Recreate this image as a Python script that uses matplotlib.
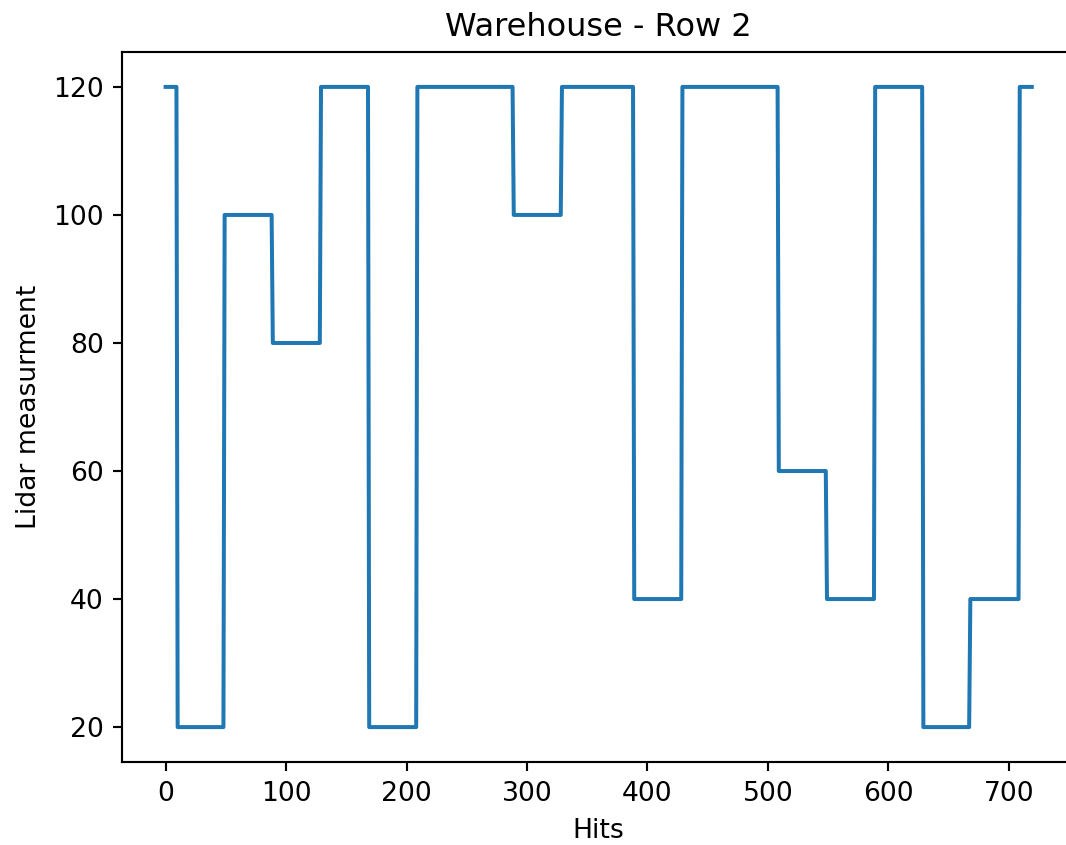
import numpy as np
import matplotlib
matplotlib.use("Agg")
import matplotlib.pyplot as plt

# plateau start indices (hits) and the lidar level of each plateau
seg_start = [0, 10, 49, 89, 129, 169, 209, 289, 329, 389, 429, 509, 549, 589, 629, 668, 709]
seg_level = [120, 20, 100, 80, 120, 20, 120, 100, 120, 40, 120, 60, 40, 120, 20, 40, 120]
n_hits = 720

# expand plateaus into one reading per hit
seg_len = np.diff(seg_start + [n_hits])
hits = np.arange(n_hits)
lidar = np.repeat(seg_level, seg_len)

dpi = 192
fig = plt.figure(figsize=(1066 / dpi, 845 / dpi), dpi=dpi)
ax = fig.add_axes([122.3 / 1066, (845 - 762.3) / 845, 952.8 / 1066, 710.6 / 845])
ax.plot(hits, lidar)
ax.set_xlim(-35.95, 754.95)
ax.set_ylim(14.5, 125.5)
ax.set_title("Warehouse - Row 2")
ax.set_xlabel("Hits")
ax.set_ylabel("Lidar measurment")

fig.savefig("out.png", dpi=dpi)
